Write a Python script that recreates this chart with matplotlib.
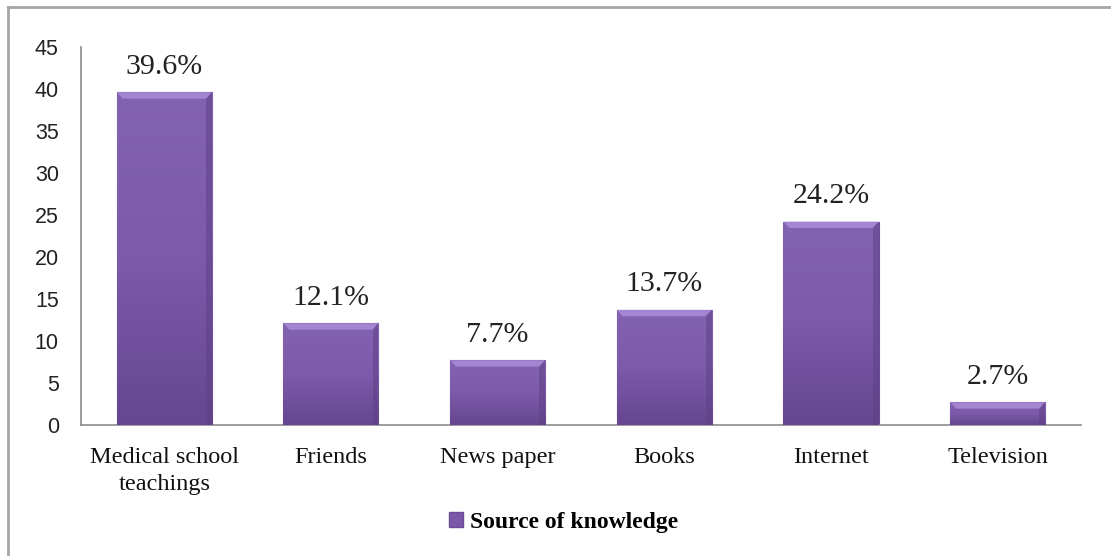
import numpy as np
import matplotlib.pyplot as plt
from matplotlib.patches import Polygon, Rectangle
from matplotlib.colors import LinearSegmentedColormap
from matplotlib.lines import Line2D

sources = ['Medical school\nteachings', 'Friends', 'News paper', 'Books', 'Internet', 'Television']
percent = [39.6, 12.1, 7.7, 13.7, 24.2, 2.7]
legend_label = 'Source of knowledge'

serif = 'Liberation Serif'
sans = 'Liberation Sans'

fig = plt.figure(figsize=(11.11, 5.56), dpi=100)
ax = fig.add_axes([0.0729, 0.2356, 0.9001, 0.68])

# purple bars with a vertical shade and a bevelled top edge
shade = LinearSegmentedColormap.from_list('shade', ['#664690', '#7d5aaa', '#8462b2'])
width = 0.57
x = np.arange(len(sources))
bars = ax.bar(x, percent, width=width, color='#7b59a8', edgecolor='#6a4b94', linewidth=0.8, zorder=2)
grad = np.linspace(0, 1, 100).reshape(-1, 1)
for b, v in zip(bars, percent):
    x0 = b.get_x()
    im = ax.imshow(grad, cmap=shade, aspect='auto', origin='lower',
                   extent=(x0, x0 + width, 0, v), zorder=3)
    im.set_clip_path(b)
    bh = 0.75
    bw = 0.035
    ax.add_patch(Polygon([(x0, v), (x0 + width, v), (x0 + width - bw, v - bh), (x0 + bw, v - bh)],
                         closed=True, facecolor='#a385d2', edgecolor='none', zorder=4))
    ax.add_patch(Polygon([(x0 + width, v), (x0 + width, 0), (x0 + width - bw, 0), (x0 + width - bw, v - bh)],
                         closed=True, facecolor='#5e4185', edgecolor='none', alpha=0.55, zorder=4))
    ax.annotate(f'{v}%', (b.get_x() + width / 2, v), xytext=(0, 9), textcoords='offset points',
                ha='center', va='bottom', fontsize=21.5, family=serif, color='#222222')

ax.set_xlim(-0.5, len(sources) - 0.5)
ax.set_ylim(0, 45)
ax.set_yticks(range(0, 50, 5))
ax.set_xticks(x)
ax.set_xticklabels(sources, fontsize=17.5, family=serif, color='#111111', linespacing=1.35)
for lab in ax.get_yticklabels():
    lab.set_family(sans)
    lab.set_fontsize(15.5)
    lab.set_color('#222222')
ax.tick_params(axis='both', length=0)
ax.tick_params(axis='y', pad=16)
ax.tick_params(axis='x', pad=16)
for s in ['top', 'right']:
    ax.spines[s].set_visible(False)
for s in ['left', 'bottom']:
    ax.spines[s].set_color('#8c8c8c')
    ax.spines[s].set_linewidth(1.2)

handle = Rectangle((0, 0), 1, 1, facecolor='#7b59a8', edgecolor='#6a4b94')
fig.legend([handle], [legend_label], loc='center', bbox_to_anchor=(0.507, 0.061),
           frameon=False, handlelength=0.6, handleheight=0.6, handletextpad=0.3,
           prop={'family': serif, 'weight': 'bold', 'size': 17})

# outer frame, top and left edges only
fig.add_artist(Line2D([0.0068, 1.0], [0.9875, 0.9875], color='#a6a6a6', linewidth=2, transform=fig.transFigure))
fig.add_artist(Line2D([0.0068, 0.0068], [0.0, 0.9875], color='#a6a6a6', linewidth=2, transform=fig.transFigure))

fig.savefig('out.png', dpi=100)
